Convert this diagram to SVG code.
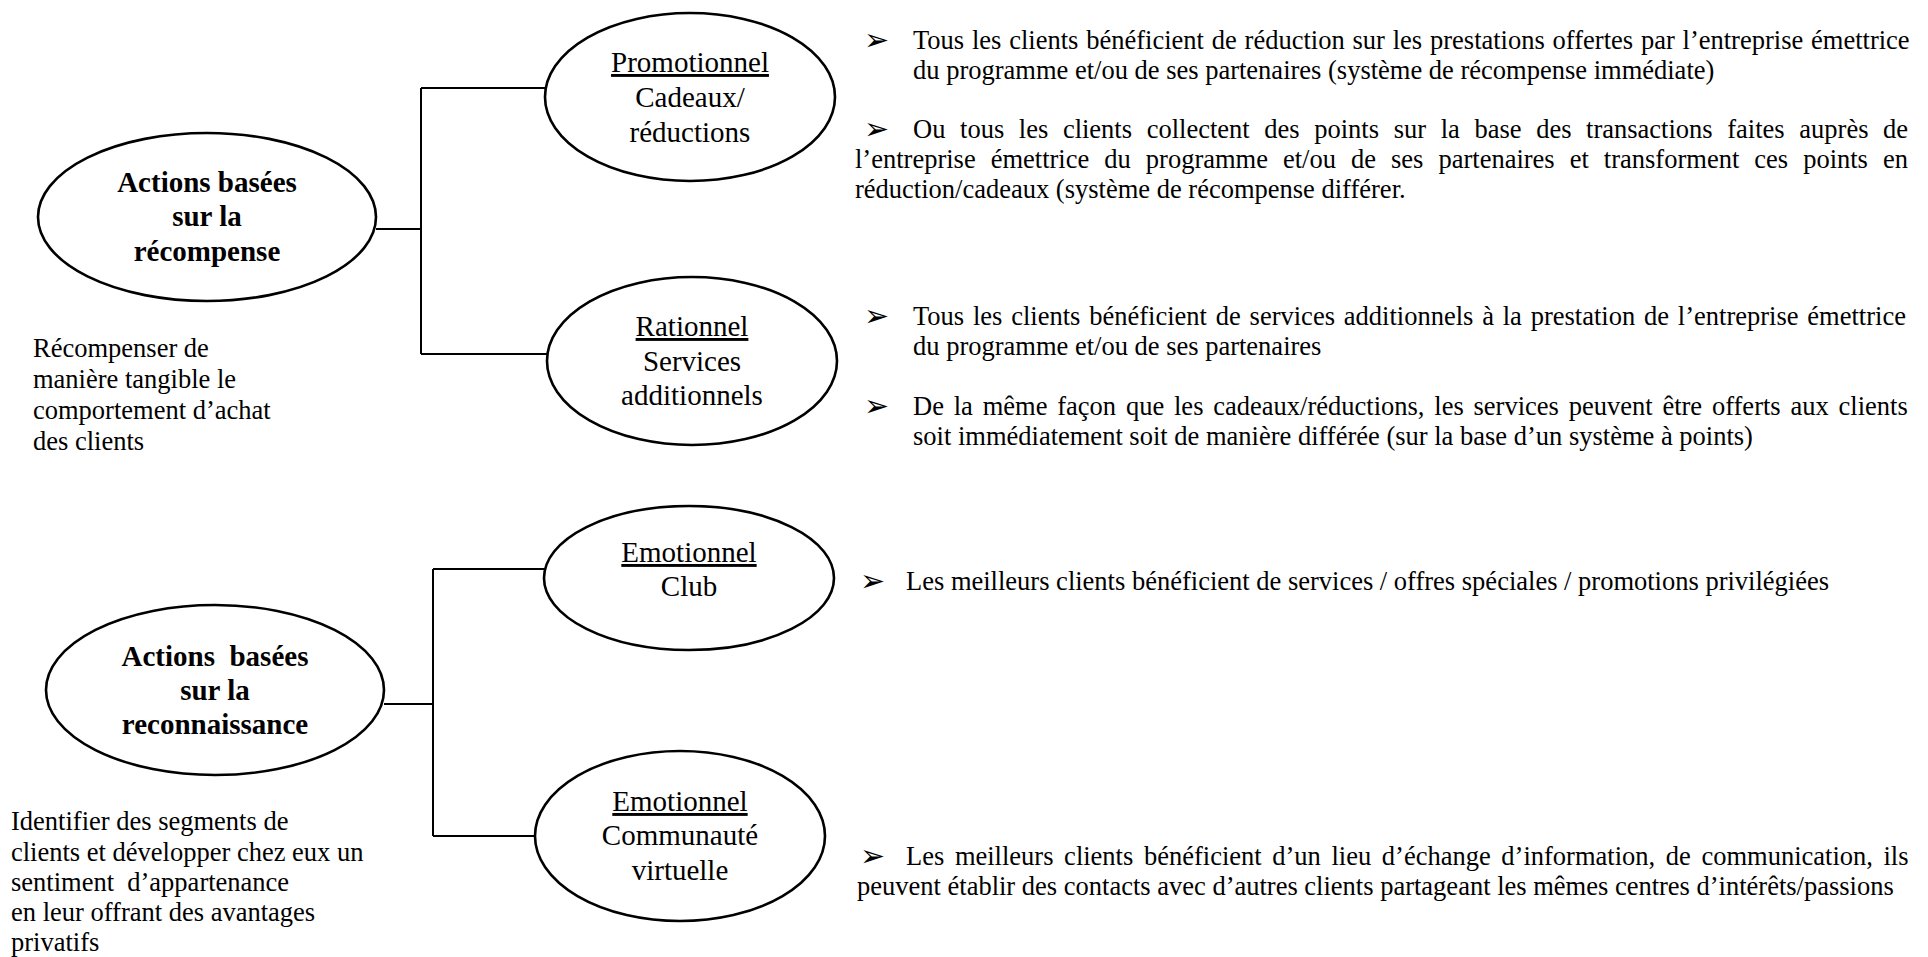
<svg xmlns="http://www.w3.org/2000/svg" width="1928" height="957" viewBox="0 0 1928 957">
  <style>
    text { font-family: "Liberation Serif", "Times New Roman", serif; fill: #000; }
    .node ellipse { fill: #fff; stroke: #000; stroke-width: 2.6; }
    .lbl { font-size: 29px; text-anchor: middle; }
    .main { font-size: 29px; font-weight: bold; text-anchor: middle; white-space: pre; }
    .u { text-decoration: underline; }
    .body { font-size: 26.5px; white-space: pre; }
    .bul { font-family: "DejaVu Sans", sans-serif; font-size: 30px; }
    .links path { fill: none; stroke: #000; stroke-width: 2; }
  </style>

  <!-- connectors -->
  <g class="links" id="connectors">
    <path d="M376 229 H421 M421 88 V354 M421 88 H545 M421 354 H547"/>
    <path d="M384 704 H433 M433 569 V836 M433 569 H545 M433 836 H535"/>
  </g>

  <!-- reward-based branch -->
  <g class="node" id="node-recompense">
    <ellipse cx="207" cy="217" rx="169" ry="84"/>
    <text class="main" x="207" y="192">Actions basées</text>
    <text class="main" x="207" y="226">sur la</text>
    <text class="main" x="207" y="261">récompense</text>
  </g>
  <g class="node" id="node-promotionnel">
    <ellipse cx="690" cy="97" rx="145" ry="84"/>
    <text class="lbl u" x="690" y="72">Promotionnel</text>
    <text class="lbl" x="690" y="107">Cadeaux/</text>
    <text class="lbl" x="690" y="142">réductions</text>
  </g>
  <g class="node" id="node-rationnel">
    <ellipse cx="692" cy="361" rx="145" ry="84"/>
    <text class="lbl u" x="692" y="336">Rationnel</text>
    <text class="lbl" x="692" y="371">Services</text>
    <text class="lbl" x="692" y="405">additionnels</text>
  </g>

  <!-- recognition-based branch -->
  <g class="node" id="node-reconnaissance">
    <ellipse cx="215" cy="690" rx="169" ry="85"/>
    <text class="main" x="215" y="666">Actions  basées</text>
    <text class="main" x="215" y="700">sur la</text>
    <text class="main" x="215" y="734">reconnaissance</text>
  </g>
  <g class="node" id="node-club">
    <ellipse cx="689" cy="578" rx="145" ry="72"/>
    <text class="lbl u" x="689" y="562">Emotionnel</text>
    <text class="lbl" x="689" y="596">Club</text>
  </g>
  <g class="node" id="node-communaute">
    <ellipse cx="680" cy="836" rx="145" ry="85"/>
    <text class="lbl u" x="680" y="811">Emotionnel</text>
    <text class="lbl" x="680" y="845">Communauté</text>
    <text class="lbl" x="680" y="880">virtuelle</text>
  </g>

  <!-- side notes -->
  <g id="note-recompense">
    <text class="body" x="33" y="357">Récompenser de</text>
    <text class="body" x="33" y="388">manière tangible le</text>
    <text class="body" x="33" y="419">comportement d’achat</text>
    <text class="body" x="33" y="450">des clients</text>
  </g>
  <g id="note-reconnaissance">
    <text class="body" x="11" y="830">Identifier des segments de</text>
    <text class="body" x="11" y="861">clients et développer chez eux un</text>
    <text class="body" x="11" y="891">sentiment  d’appartenance</text>
    <text class="body" x="11" y="921">en leur offrant des avantages</text>
    <text class="body" x="11" y="951">privatifs</text>
  </g>

  <!-- descriptions: promotionnel -->
  <g id="desc-promotionnel">
    <text class="bul" x="864" y="50">➢</text>
    <text class="body" x="913" y="49" word-spacing="1.2">Tous les clients bénéficient de réduction sur les prestations offertes par l’entreprise émettrice</text>
    <text class="body" x="913" y="79">du programme et/ou de ses partenaires (système de récompense immédiate)</text>
    <text class="bul" x="864" y="139">➢</text>
    <text class="body" x="913" y="138" word-spacing="8">Ou tous les clients collectent des points sur la base des transactions faites auprès de</text>
    <text class="body" x="855" y="168" word-spacing="8.4">l’entreprise émettrice du programme et/ou de ses partenaires et transforment ces points en</text>
    <text class="body" x="855" y="198">réduction/cadeaux (système de récompense différer.</text>
  </g>

  <!-- descriptions: rationnel -->
  <g id="desc-rationnel">
    <text class="bul" x="864" y="326">➢</text>
    <text class="body" x="913" y="325" word-spacing="2.2">Tous les clients bénéficient de services additionnels à la prestation de l’entreprise émettrice</text>
    <text class="body" x="913" y="355">du programme et/ou de ses partenaires</text>
    <text class="bul" x="864" y="416">➢</text>
    <text class="body" x="913" y="415" word-spacing="3.2">De la même façon que les cadeaux/réductions, les services peuvent être offerts aux clients</text>
    <text class="body" x="913" y="445">soit immédiatement soit de manière différée (sur la base d’un système à points)</text>
  </g>

  <!-- descriptions: emotionnel -->
  <g id="desc-club">
    <text class="bul" x="860" y="591">➢</text>
    <text class="body" x="906" y="590">Les meilleurs clients bénéficient de services / offres spéciales / promotions privilégiées</text>
  </g>
  <g id="desc-communaute">
    <text class="bul" x="860" y="866">➢</text>
    <text class="body" x="906" y="865" word-spacing="4">Les meilleurs clients bénéficient d’un lieu d’échange d’information, de communication, ils</text>
    <text class="body" x="857" y="895">peuvent établir des contacts avec d’autres clients partageant les mêmes centres d’intérêts/passions</text>
  </g>
</svg>
